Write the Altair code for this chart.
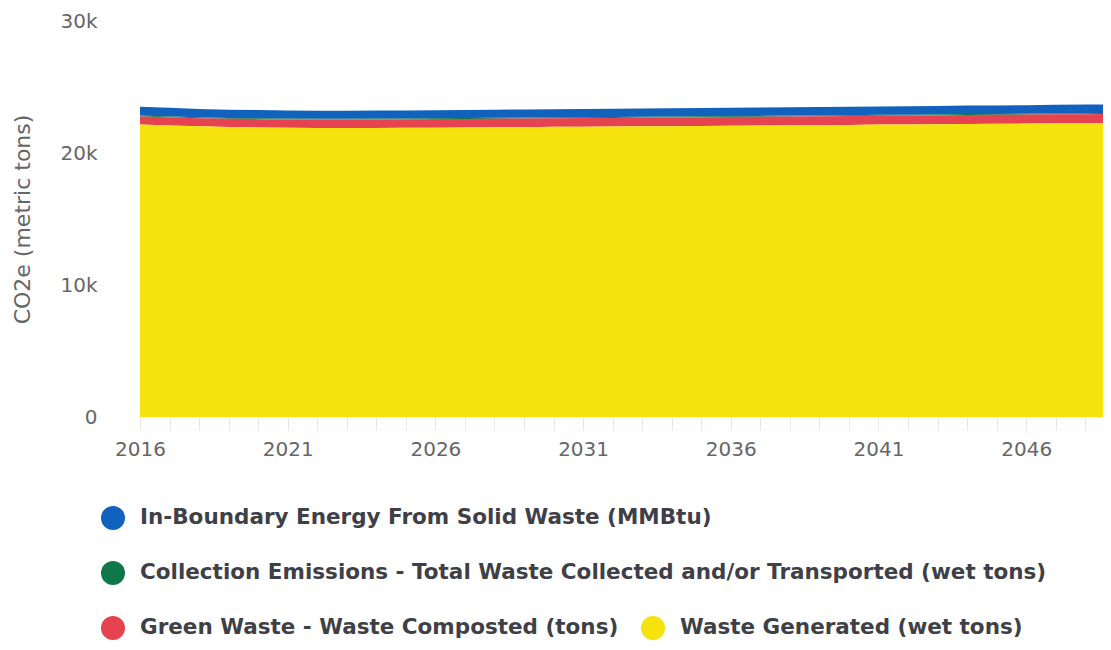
import altair as alt
import pandas as pd

years = list(range(2016, 2051))

series_names = [
    "In-Boundary Energy From Solid Waste (MMBtu)",
    "Collection Emissions - Total Waste Collected and/or Transported (wet tons)",
    "Green Waste - Waste Composted (tons)",
    "Waste Generated (wet tons)",
]
series_colors = ["#1062bd", "#10774a", "#e4434f", "#f6e20c"]
stack_rank = [3, 2, 1, 0]

in_boundary = [660, 650, 640, 630, 620, 615, 610, 610, 610, 610, 612, 615, 615, 618,
               620, 620, 622, 625, 625, 628, 630, 630, 632, 635, 635, 638, 640, 640,
               642, 645, 645, 648, 650, 650, 652]
collection = [70, 68, 67, 66, 65, 65, 65, 64, 64, 64, 64, 65, 65, 65, 65, 66, 66, 66,
              66, 67, 67, 67, 67, 68, 68, 68, 68, 69, 69, 69, 69, 70, 70, 70, 70]
green_waste = [620, 615, 615, 620, 625, 630, 635, 640, 645, 645, 650, 650, 650, 655,
               655, 655, 660, 660, 660, 665, 665, 665, 670, 670, 670, 675, 675, 675,
               680, 680, 680, 685, 685, 685, 690]
waste_generated = [22150, 22090, 22020, 21970, 21940, 21910, 21900, 21890, 21900, 21910,
                   21920, 21930, 21950, 21960, 21980, 21990, 22000, 22020, 22030, 22050,
                   22060, 22080, 22100, 22110, 22130, 22150, 22160, 22180, 22200, 22210,
                   22230, 22250, 22260, 22280, 22300]

x_ticks = list(range(2016, 2049))
y_ticks = [0, 10000, 20000, 30000]

all_values = [in_boundary, collection, green_waste, waste_generated]
rows = []
for name, vals, rank in zip(series_names, all_values, stack_rank):
    for yr, v in zip(years, vals):
        rows.append({"year": yr, "series": name, "value": v, "rank": rank})
df = pd.DataFrame(rows)

FONT = "DejaVu Sans"

x_scale = alt.Scale(domain=[2016, 2048.6], nice=False, zero=False)
y_scale = alt.Scale(domain=[0, 30000], nice=False)

x_axis = alt.Axis(
    values=x_ticks, format="d",
    labelExpr="datum.value % 5 == 1 ? datum.label : ''",
    title=None, domain=False, grid=False,
    tickColor="#e6e6e6", tickSize=13, tickWidth=1,
    labelFont=FONT, labelFontSize=20, labelColor="#666666",
    labelPadding=9, labelOverlap=False, labelFlush=False, labelBound=False,
)
y_axis = alt.Axis(
    values=y_ticks, format="~s",
    labelExpr="datum.value == 0 ? '0' : datum.label",
    title="CO2e (metric tons)", titleFont=FONT, titleFontSize=22,
    titleFontWeight="normal", titleColor="#666666", titlePadding=25,
    domain=False, grid=False, ticks=False,
    labelFont=FONT, labelFontSize=20, labelColor="#666666", labelPadding=43,
)

legend_common = dict(
    orient="none", title=None, symbolType="circle", symbolSize=576,
    symbolStrokeWidth=0, symbolOpacity=1, labelFont=FONT, labelFontSize=21.5,
    labelFontWeight="bold", labelColor="#3f3f47", labelLimit=2000,
    labelOffset=15, padding=0,
)

area = alt.Chart(df).mark_area(clip=True, opacity=1).encode(
    x=alt.X("year:Q", scale=x_scale, axis=x_axis),
    y=alt.Y("value:Q", stack="zero", scale=y_scale, axis=y_axis),
    color=alt.Color(
        "series:N",
        scale=alt.Scale(domain=series_names, range=series_colors),
        legend=alt.Legend(values=series_names[:3], direction="vertical",
                          legendX=-39, legendY=485, rowPadding=31, **legend_common),
    ),
    order=alt.Order("rank:Q", sort="ascending"),
)

pts = alt.Chart(df[df["series"] == series_names[3]]).mark_point(
    filled=True, size=0, opacity=1
).encode(
    x=alt.X("year:Q", scale=x_scale, axis=x_axis),
    y=alt.Y("value:Q", scale=y_scale, axis=y_axis),
    fill=alt.Fill(
        "series:N",
        scale=alt.Scale(domain=series_names[3:], range=series_colors[3:]),
        legend=alt.Legend(legendX=501, legendY=595, **legend_common),
    ),
)

chart = alt.layer(area, pts).properties(
    width=963, height=396,
    autosize=alt.AutoSizeParams(type="none"),
    padding={"left": 132, "top": 13, "right": 0, "bottom": 224},
    background="white",
).configure_view(stroke=None)

chart.save("out.html", embed_options={"renderer": "svg", "actions": False})
